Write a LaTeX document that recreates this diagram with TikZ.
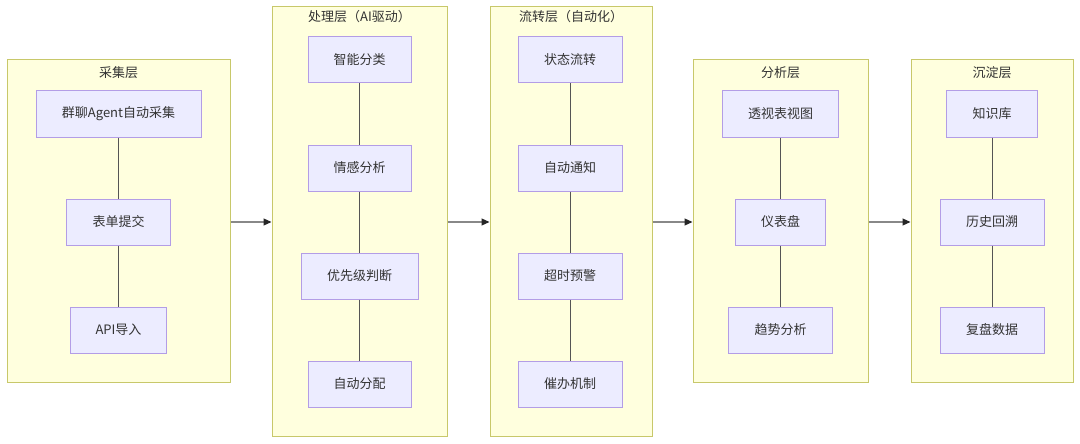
\documentclass[tikz,border=0pt]{standalone}
\usepackage{fontspec}
\setmainfont{Noto Sans CJK SC}
\usetikzlibrary{arrows.meta}
\definecolor{clfill}{HTML}{FFFFDE}
\definecolor{cldraw}{HTML}{C8C86A}
\definecolor{ndfill}{HTML}{ECECFF}
\definecolor{nddraw}{HTML}{B39DE6}
\definecolor{lnc}{HTML}{555555}
\tikzset{
  cluster/.style={draw=cldraw, fill=clfill, line width=1pt, inner sep=0pt, rectangle},
  ttl/.style={font=\fontsize{13}{15}\selectfont, text=black!80, inner sep=0pt},
  box/.style={draw=nddraw, fill=ndfill, line width=1pt, inner sep=0pt, minimum height=46pt, font=\fontsize{13}{15}\selectfont, text=black!80},
  link/.style={draw=lnc, line width=0.9pt},
  flow/.style={draw=lnc!70, line width=1.2pt, -{Triangle[length=8pt,width=7pt,fill=black!85,color=black!85]}}
}
\begin{document}
\begin{tikzpicture}[x=1pt,y=-1pt]
\useasboundingbox (0,0) rectangle (1080,444);
% clusters
\node[cluster, minimum width=223pt, minimum height=322pt] (c1) at (118.5,221) {};
\node[cluster, minimum width=175pt, minimum height=429pt] (c2) at (359.5,221.5) {};
\node[cluster, minimum width=162pt, minimum height=429pt] (c3) at (571,221.5) {};
\node[cluster, minimum width=175pt, minimum height=322pt] (c4) at (780.5,221) {};
\node[cluster, minimum width=162pt, minimum height=322pt] (c5) at (992,221) {};
\node[ttl] (t1) at (118.5,73) {采集层};
\node[ttl] (t2) at (359.5,17) {处理层（AI驱动）};
\node[ttl] (t3) at (571,17) {流转层（自动化）};
\node[ttl] (t4) at (780.5,73) {分析层};
\node[ttl] (t5) at (992,73) {沉淀层};
% layer 1
\node[box, minimum width=165pt] (a1) at (118.5,114) {群聊Agent自动采集};
\node[box, minimum width=104pt] (a2) at (118.5,222) {表单提交};
\node[box, minimum width=96pt] (a3) at (118.5,330) {API导入};
% layer 2
\node[box, minimum width=103pt] (b1) at (359.5,60) {智能分类};
\node[box, minimum width=103pt] (b2) at (359.5,168) {情感分析};
\node[box, minimum width=117pt] (b3) at (359.5,276) {优先级判断};
\node[box, minimum width=103pt] (b4) at (359.5,384) {自动分配};
% layer 3
\node[box, minimum width=104pt] (d1) at (570,60) {状态流转};
\node[box, minimum width=104pt] (d2) at (570,168) {自动通知};
\node[box, minimum width=104pt] (d3) at (570,276) {超时预警};
\node[box, minimum width=104pt] (d4) at (570,384) {催办机制};
% layer 4
\node[box, minimum width=116pt] (e1) at (780.5,114) {透视表视图};
\node[box, minimum width=90pt] (e2) at (780.5,222) {仪表盘};
\node[box, minimum width=104pt] (e3) at (780.5,330) {趋势分析};
% layer 5
\node[box, minimum width=91pt] (f1) at (992,114) {知识库};
\node[box, minimum width=104pt] (f2) at (992,222) {历史回溯};
\node[box, minimum width=104pt] (f3) at (992,330) {复盘数据};
% links
\draw[link] (a1) -- (a2); \draw[link] (a2) -- (a3);
\draw[link] (b1) -- (b2); \draw[link] (b2) -- (b3); \draw[link] (b3) -- (b4);
\draw[link] (d1) -- (d2); \draw[link] (d2) -- (d3); \draw[link] (d3) -- (d4);
\draw[link] (e1) -- (e2); \draw[link] (e2) -- (e3);
\draw[link] (f1) -- (f2); \draw[link] (f2) -- (f3);
% flows
\draw[flow] (c1.east |- 0,222) -- (c2.west |- 0,222);
\draw[flow] (c2.east |- 0,222) -- (c3.west |- 0,222);
\draw[flow] (c3.east |- 0,222) -- (c4.west |- 0,222);
\draw[flow] (c4.east |- 0,222) -- (c5.west |- 0,222);
\end{tikzpicture}
\end{document}
